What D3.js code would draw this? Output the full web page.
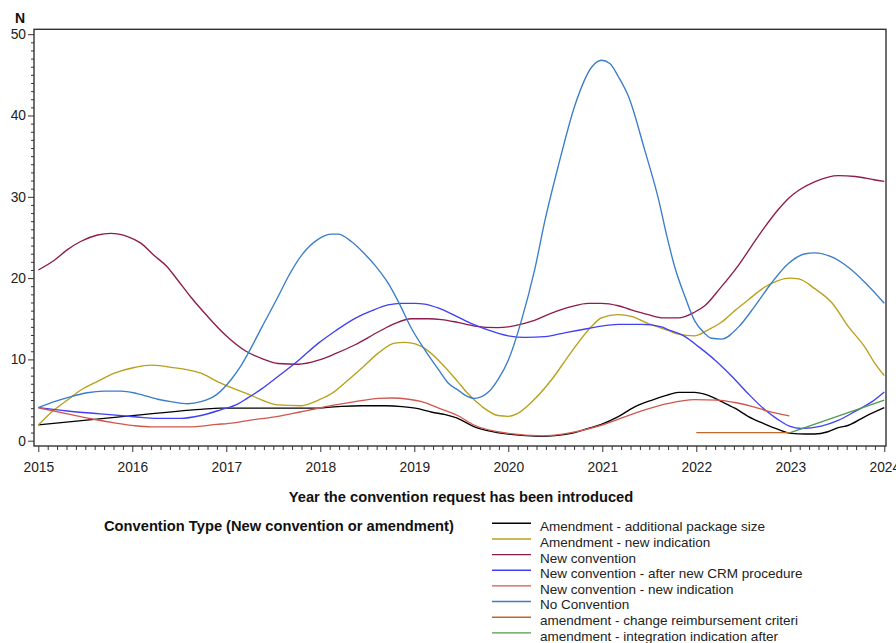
<!DOCTYPE html>
<html>
<head>
<meta charset="utf-8">
<script src="https://cdn.jsdelivr.net/npm/d3@7/dist/d3.min.js"></script>
<style>
  html, body { margin: 0; padding: 0; background: #fff; }
  svg { display: block; font-family: Arial, "Liberation Sans", sans-serif; }
</style>
</head>
<body>
<svg id="chart" width="896" height="643"></svg>
<script>
// Number of convention requests per year, smoothed trend per convention type
const seriesNames = [
  "Amendment - additional package size",
  "Amendment - new indication",
  "New convention",
  "New convention - after new CRM procedure",
  "New convention - new indication",
  "No Convention",
  "amendment - change reimbursement criteri",
  "amendment - integration indication after"
];
const seriesColors = ["#000000", "#B8A01A", "#8E1B4C", "#4040F5", "#D0574F", "#3A7DC9", "#C0682B", "#4E9B4E"];

const xTicks = [2015, 2016, 2017, 2018, 2019, 2020, 2021, 2022, 2023, 2024];
const yTicks = [0, 10, 20, 30, 40, 50];

// [year, N]
const additionalPackageSize = [
  [2015,1.95],[2015.84,2.9],[2016.73,3.86],[2016.94,4.0],[2017.5,4.0],[2017.91,4.0],[2018.19,4.2],
  [2018.44,4.3],[2018.69,4.3],[2018.87,4.2],[2019.01,4.0],[2019.19,3.5],[2019.33,3.2],[2019.45,2.8],
  [2019.64,1.7],[2019.79,1.2],[2020.0,0.8],[2020.18,0.62],[2020.36,0.54],[2020.5,0.62],[2020.67,0.9],
  [2020.85,1.5],[2020.99,2.0],[2021.17,2.95],[2021.35,4.2],[2021.53,5.0],[2021.69,5.6],[2021.81,5.95],
  [2021.98,5.95],[2022.12,5.6],[2022.27,4.8],[2022.41,4.0],[2022.55,3.0],[2022.73,2.05],[2022.87,1.4],
  [2023.01,0.9],[2023.16,0.82],[2023.26,0.82],[2023.4,1.1],[2023.51,1.6],[2023.62,1.9],[2023.8,3.0],[2024,4.06]
];
const amendmentNewIndication = [
  [2015,1.93],[2015.17,3.8],[2015.31,5.0],[2015.45,6.2],[2015.63,7.3],[2015.81,8.3],[2016.02,9.0],
  [2016.2,9.3],[2016.37,9.1],[2016.55,8.8],[2016.73,8.3],[2016.9,7.3],[2017.08,6.4],[2017.22,5.8],
  [2017.38,5.0],[2017.55,4.4],[2017.8,4.3],[2017.98,5.0],[2018.12,5.8],[2018.26,7.1],[2018.44,8.9],
  [2018.62,10.8],[2018.79,12.0],[2018.9,12.1],[2019.01,11.9],[2019.13,11.2],[2019.29,9.5],[2019.46,7.3],
  [2019.57,5.8],[2019.72,4.2],[2019.89,3.1],[2020.0,3.0],[2020.09,3.3],[2020.27,5.0],[2020.46,7.5],
  [2020.67,10.9],[2020.89,14.1],[2020.99,15.1],[2021.17,15.5],[2021.31,15.3],[2021.49,14.4],[2021.69,13.6],
  [2021.81,13.1],[2021.98,12.9],[2022.12,13.6],[2022.27,14.6],[2022.41,16.0],[2022.55,17.3],[2022.73,18.9],
  [2022.87,19.7],[2022.99,20.0],[2023.09,19.9],[2023.26,18.7],[2023.44,17.0],[2023.62,14.0],[2023.8,11.4],
  [2023.9,9.5],[2024,8.0]
];
const newConvention = [
  [2015,21.0],[2015.17,22.2],[2015.31,23.5],[2015.45,24.5],[2015.63,25.3],[2015.77,25.5],[2015.95,25.1],
  [2016.09,24.3],[2016.23,22.8],[2016.37,21.4],[2016.48,19.8],[2016.62,17.7],[2016.8,15.3],[2016.99,13.0],
  [2017.21,11.0],[2017.38,10.1],[2017.55,9.5],[2017.77,9.4],[2017.98,9.9],[2018.16,10.7],[2018.37,11.8],
  [2018.62,13.4],[2018.79,14.4],[2018.97,15.0],[2019.15,15.0],[2019.29,14.9],[2019.46,14.55],[2019.64,14.1],
  [2019.89,13.9],[2020.0,14.0],[2020.25,14.7],[2020.46,15.7],[2020.67,16.5],[2020.85,16.9],[2020.99,16.9],
  [2021.17,16.6],[2021.28,16.2],[2021.49,15.5],[2021.65,15.1],[2021.81,15.1],[2021.98,15.8],[2022.09,16.6],
  [2022.25,18.7],[2022.45,21.6],[2022.62,24.5],[2022.73,26.3],[2022.87,28.4],[2022.98,29.8],[2023.09,30.8],
  [2023.27,31.9],[2023.51,32.6],[2023.69,32.5],[2023.8,32.3],[2023.89,32.1],[2024,31.9]
];
const newConventionCRM = [
  [2015,4.06],[2015.31,3.65],[2015.66,3.3],[2016.02,2.95],[2016.27,2.75],[2016.51,2.75],[2016.73,3.1],
  [2016.94,3.8],[2017.12,4.5],[2017.22,5.2],[2017.38,6.4],[2017.55,7.9],[2017.77,9.9],[2017.98,12.0],
  [2018.16,13.5],[2018.37,15.05],[2018.55,16.0],[2018.72,16.7],[2018.86,16.9],[2019.01,16.9],[2019.11,16.8],
  [2019.26,16.3],[2019.45,15.3],[2019.61,14.4],[2019.79,13.6],[2020.0,12.9],[2020.18,12.7],[2020.39,12.8],
  [2020.61,13.3],[2020.85,13.8],[2020.99,14.1],[2021.17,14.3],[2021.42,14.3],[2021.63,14.0],[2021.69,13.7],
  [2021.88,12.8],[2022.02,11.6],[2022.2,9.9],[2022.38,7.9],[2022.55,5.8],[2022.73,3.8],[2022.87,2.6],
  [2022.99,1.8],[2023.12,1.5],[2023.33,1.8],[2023.51,2.5],[2023.69,3.6],[2023.87,4.8],[2024,6.0]
];
const newConventionNewIndication = [
  [2015,4.06],[2015.31,3.3],[2015.56,2.7],[2015.81,2.2],[2016.02,1.85],[2016.2,1.7],[2016.59,1.7],
  [2016.9,2.0],[2017.08,2.2],[2017.24,2.5],[2017.55,3.0],[2017.77,3.5],[2017.94,3.9],[2018.16,4.4],
  [2018.37,4.8],[2018.62,5.2],[2018.76,5.25],[2018.94,5.1],[2019.08,4.8],[2019.26,4.0],[2019.46,3.1],
  [2019.64,1.9],[2020.0,0.9],[2020.36,0.6],[2020.67,1.0],[2020.99,1.9],[2021.35,3.4],[2021.69,4.55],
  [2021.98,5.05],[2022.23,5.0],[2022.41,4.7],[2022.6,4.2],[2022.77,3.6],[2022.99,3.05]
];
const noConvention = [
  [2015,4.06],[2015.17,4.8],[2015.34,5.4],[2015.52,5.9],[2015.7,6.1],[2015.88,6.1],[2016.05,5.8],
  [2016.27,5.1],[2016.41,4.8],[2016.59,4.55],[2016.73,4.8],[2016.9,5.7],[2017.05,7.5],[2017.15,9.1],
  [2017.22,10.5],[2017.38,14.0],[2017.55,17.7],[2017.66,20.2],[2017.8,22.8],[2017.98,24.8],[2018.12,25.4],
  [2018.19,25.4],[2018.33,24.5],[2018.47,23.0],[2018.58,21.6],[2018.72,19.4],[2018.83,17.1],[2018.97,13.8],
  [2019.11,11.2],[2019.26,8.7],[2019.36,7.1],[2019.48,6.1],[2019.54,5.6],[2019.64,5.2],[2019.8,6.1],
  [2019.89,7.5],[2020.0,9.9],[2020.14,14.8],[2020.28,21.0],[2020.39,27.1],[2020.53,33.7],[2020.71,41.3],
  [2020.89,46.0],[2020.99,46.8],[2021.08,46.4],[2021.17,44.8],[2021.28,42.3],[2021.45,35.8],[2021.6,29.6],
  [2021.69,25.0],[2021.77,21.4],[2021.88,17.7],[2021.98,14.8],[2022.09,13.2],[2022.16,12.6],[2022.27,12.5],
  [2022.45,14.0],[2022.62,16.5],[2022.8,19.4],[2022.98,21.8],[2023.16,23.0],[2023.26,23.1],[2023.44,22.6],
  [2023.62,21.3],[2023.8,19.4],[2024,16.9]
];
const changeReimbursement = [[2022,1],[2023,1]];
const integrationIndication = [[2023,1],[2024,5]];

const seriesData = [
  additionalPackageSize, amendmentNewIndication, newConvention, newConventionCRM,
  newConventionNewIndication, noConvention, changeReimbursement, integrationIndication
];

const svg = d3.select("#chart");
const frame = { left: 34, top: 29.3, right: 886, bottom: 446 };

const x = d3.scaleLinear().domain([2015, 2024]).range([38.3, 884.3]);
const y = d3.scaleLinear().domain([0, 50]).range([440.7, 34.2]);

const tickColor = "#333";
const labelColor = "#222";
const fontFamily = "Arial, 'Liberation Sans', sans-serif";

// X axis: major year ticks plus minor ticks every tenth of a year
const xMinor = d3.range(0, 91).map(i => 2015 + i / 10).filter((v, i) => i % 10 !== 0);
svg.append("g")
  .attr("transform", `translate(0,${frame.bottom})`)
  .call(d3.axisBottom(x).tickValues(xMinor).tickSize(4).tickFormat(""))
  .call(g => g.select(".domain").remove())
  .call(g => g.selectAll("line").attr("stroke", tickColor));
svg.append("g")
  .attr("transform", `translate(0,${frame.bottom})`)
  .call(d3.axisBottom(x).tickValues(xTicks).tickSize(6).tickPadding(10).tickFormat(d3.format("d")))
  .call(g => g.select(".domain").remove())
  .call(g => g.selectAll("line").attr("stroke", tickColor))
  .call(g => g.selectAll("text").attr("fill", labelColor).style("font-size", "13.8px")
    .style("font-family", fontFamily));

// Y axis: labelled every 10, minor ticks every 1
const yMinor = d3.range(0, 51).filter(v => v % 10 !== 0);
svg.append("g")
  .attr("transform", `translate(${frame.left},0)`)
  .call(d3.axisLeft(y).tickValues(yMinor).tickSize(3).tickFormat(""))
  .call(g => g.select(".domain").remove())
  .call(g => g.selectAll("line").attr("stroke", tickColor));
svg.append("g")
  .attr("transform", `translate(${frame.left},0)`)
  .call(d3.axisLeft(y).tickValues(yTicks).tickSize(6).tickPadding(2))
  .call(g => g.select(".domain").remove())
  .call(g => g.selectAll("line").attr("stroke", tickColor))
  .call(g => g.selectAll("text").attr("fill", labelColor).style("font-size", "13.8px")
    .style("font-family", fontFamily));

// Series lines
const line = d3.line()
  .x(d => x(d[0]))
  .y(d => y(d[1]))
  .curve(d3.curveMonotoneX);

svg.append("g")
  .selectAll("path")
  .data(seriesData)
  .join("path")
  .attr("d", d => line(d))
  .attr("fill", "none")
  .attr("stroke", (d, i) => seriesColors[i])
  .attr("stroke-width", 1.35)
  .attr("stroke-linejoin", "round");

// Plot frame
svg.append("rect")
  .attr("x", frame.left)
  .attr("y", frame.top)
  .attr("width", frame.right - frame.left)
  .attr("height", frame.bottom - frame.top)
  .attr("fill", "none")
  .attr("stroke", "#333")
  .attr("stroke-width", 1.4);

// Axis titles
svg.append("text")
  .attr("x", 20).attr("y", 23.3)
  .attr("text-anchor", "middle")
  .attr("font-weight", "bold")
  .attr("font-size", 14)
  .attr("fill", "#111")
  .text("N");

svg.append("text")
  .attr("x", 461).attr("y", 502)
  .attr("text-anchor", "middle")
  .attr("font-weight", "bold")
  .attr("font-size", 14.7)
  .attr("fill", "#111")
  .text("Year the convention request has been introduced");

// Legend
svg.append("text")
  .attr("x", 104).attr("y", 531)
  .attr("font-weight", "bold")
  .attr("font-size", 14.7)
  .attr("fill", "#111")
  .text("Convention Type (New convention or amendment)");

const legend = svg.append("g")
  .selectAll("g")
  .data(seriesNames)
  .join("g")
  .attr("transform", (d, i) => `translate(0,${523.3 + i * 15.65})`);
legend.append("line")
  .attr("x1", 492).attr("x2", 531)
  .attr("stroke", (d, i) => seriesColors[i])
  .attr("stroke-width", 1.35);
legend.append("text")
  .attr("x", 540).attr("y", 7.9)
  .attr("font-size", 13.5)
  .attr("fill", labelColor)
  .text(d => d);
</script>
</body>
</html>
